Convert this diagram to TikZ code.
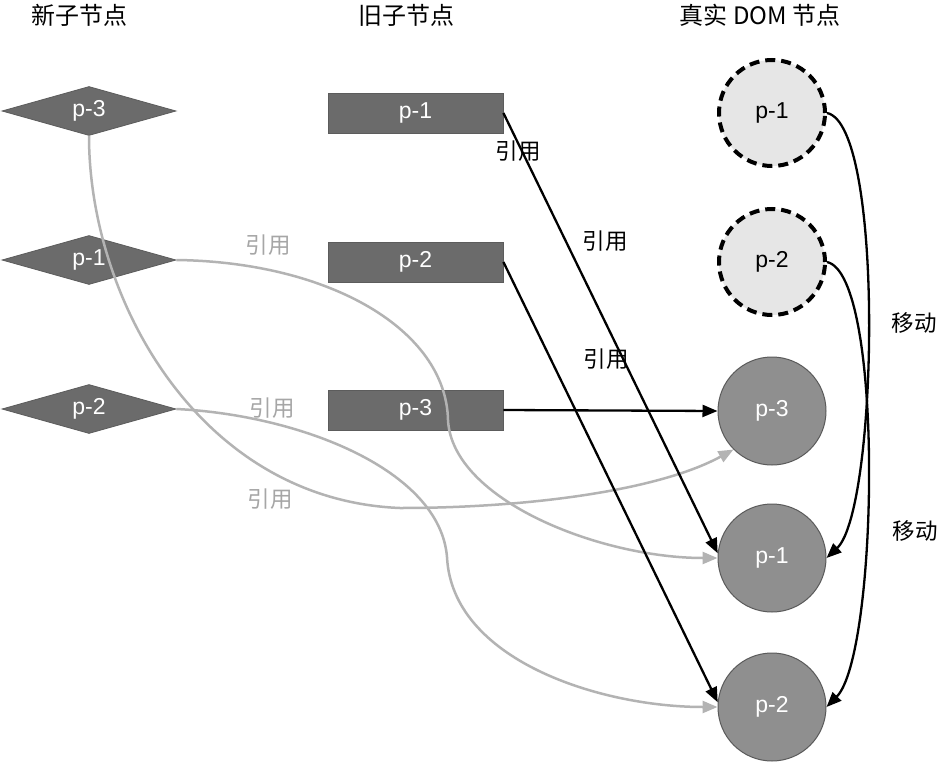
\documentclass[tikz,border=0pt]{standalone}
\usepackage{fontspec}
\setmainfont{Liberation Sans}
\newfontfamily\cjk{Noto Sans CJK SC}
\usetikzlibrary{shapes.geometric,arrows.meta}
\definecolor{boxgray}{HTML}{6B6B6B}
\definecolor{boxline}{HTML}{5C5C5C}
\definecolor{domgray}{HTML}{8F8F8F}
\definecolor{domline}{HTML}{5A5A5A}
\definecolor{ghost}{HTML}{E6E6E6}
\definecolor{refgray}{HTML}{B3B3B3}
\definecolor{reftext}{HTML}{A6A6A6}
\begin{document}
\begin{tikzpicture}[x=1pt,y=-1pt,
  head/.style={font=\cjk\fontsize{24}{28}\selectfont, inner sep=0pt},
  lbl/.style={font=\cjk\fontsize{22.5}{26}\selectfont, inner sep=0pt},
  glbl/.style={lbl, text=reftext},
  ptext/.style={font=\fontsize{23}{27}\selectfont},
  newnode/.style={diamond, ptext, draw=boxline, line width=0.8pt, fill=boxgray, text=white,
    minimum width=174pt, minimum height=49pt, inner sep=0pt, aspect=3.5},
  oldnode/.style={rectangle, ptext, draw=boxline, line width=0.8pt, fill=boxgray, text=white,
    minimum width=175pt, minimum height=40pt, inner sep=0pt},
  ghostnode/.style={circle, ptext, draw=black, line width=4pt, dash pattern=on 10pt off 6pt,
    fill=ghost, text=black, minimum size=106pt, inner sep=0pt},
  domnode/.style={circle, ptext, draw=domline, line width=1pt, fill=domgray, text=white,
    minimum size=108pt, inner sep=0pt},
  refb/.style={draw=black, line width=2.3pt, -{Triangle[length=15pt,width=12pt]}},
  refg/.style={draw=refgray, line width=2.5pt, -{Triangle[length=15pt,width=12pt]}},
]
\useasboundingbox (0,0) rectangle (942,762);
\fill[white] (0,0) rectangle (942,762);

% headings
\node[head] (h1) at (79,15) {新子节点};
\node[head] (h2) at (406,15) {旧子节点};
\node[head] (h3) at (760,15) {真实 DOM 节点};

% new children
\node[newnode] (n3) at (89,111) {p-3};
\node[newnode] (n1) at (89,260) {p-1};
\node[newnode] (n2) at (89,409) {p-2};

% old children
\node[oldnode] (o1) at (415.5,113) {p-1};
\node[oldnode] (o2) at (415.5,262) {p-2};
\node[oldnode] (o3) at (415.5,410) {p-3};

% real DOM nodes
\node[ghostnode] (g1) at (772,113) {p-1};
\node[ghostnode] (g2) at (772,262) {p-2};
\node[domnode] (d3) at (772,411) {p-3};
\node[domnode] (d1) at (772,558) {p-1};
\node[domnode] (d2) at (772,707) {p-2};

% waypoints
\coordinate (w1) at (400,508);
\coordinate (w2) at (448,420);
\coordinate (w3) at (447,557);

% grey references
\draw[refg] (n3.south) .. controls (89,300) and (200,500) .. (w1)
  .. controls (530,508) and (660,490) .. (d3.225);
\draw[refg] (n1.east) .. controls (330,262) and (446,330) .. (w2)
  .. controls (452,500) and (600,558) .. (d1.west);
\draw[refg] (n2.east) .. controls (300,415) and (440,470) .. (w3)
  .. controls (452,660) and (600,707) .. (d2.west);

% black references
\draw[refb] (o1.east) -- (d1.175);
\draw[refb] (o2.east) -- (d2.175);
\draw[refb] (o3.east) -- (d3.west);

% moves
\draw[refb] (g1.east) .. controls (885,125) and (878,510) .. (d1.east);
\draw[refb] (g2.east) .. controls (885,275) and (878,655) .. (d2.east);

% labels
\node[glbl] (l1) at (268,245) {引用};
\node[glbl] (l2) at (272,408) {引用};
\node[glbl] (l3) at (270,499) {引用};
\node[lbl] (l4) at (518,151) {引用};
\node[lbl] (l5) at (605,241) {引用};
\node[lbl] (l6) at (606,359) {引用};
\node[lbl] (m1) at (914,323) {移动};
\node[lbl] (m2) at (915,531) {移动};
\end{tikzpicture}
\end{document}
